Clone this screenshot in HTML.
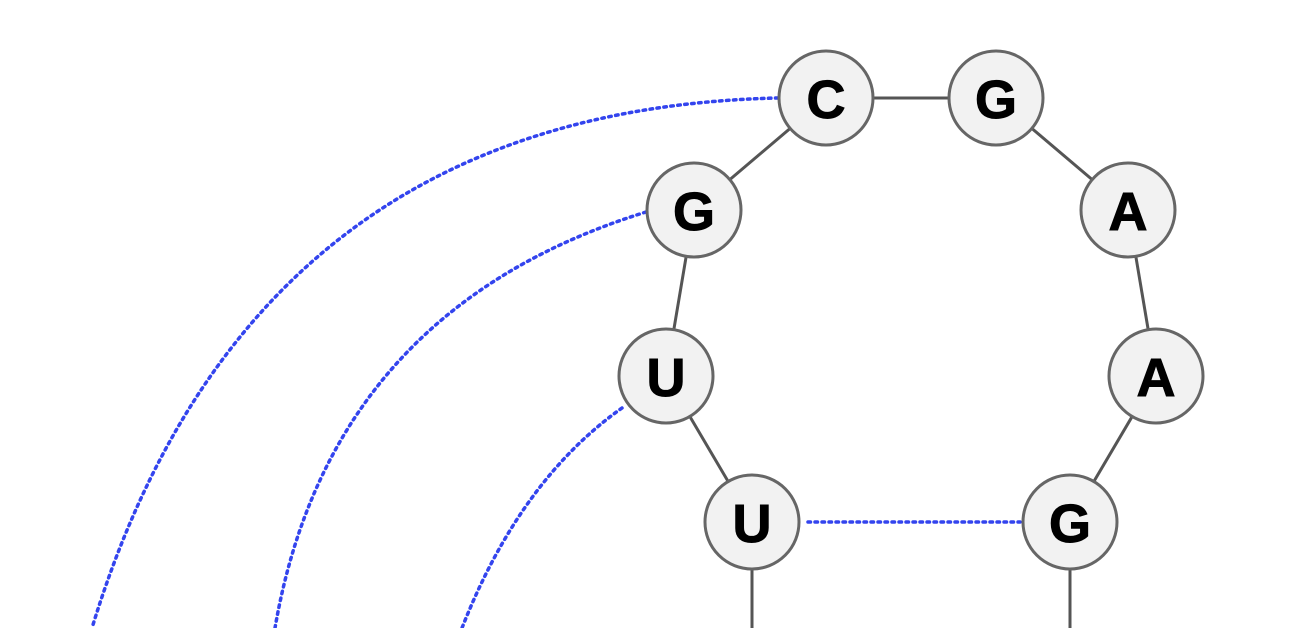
<!DOCTYPE html>
<html><head><meta charset="utf-8"><style>
html,body{margin:0;padding:0;background:#fff;}
svg{display:block;}
text{font-family:"Liberation Sans",sans-serif;font-weight:bold;font-size:54px;fill:#000;text-anchor:middle;dominant-baseline:central;stroke:#000;stroke-width:1;}
</style></head><body>
<svg width="1300" height="628" viewBox="0 0 1300 628" xmlns="http://www.w3.org/2000/svg">
<g stroke="#555" stroke-width="3" fill="none">
<line x1="826" y1="98" x2="996" y2="98"/>
<line x1="826" y1="98" x2="694" y2="210"/>
<line x1="996" y1="98" x2="1128" y2="210"/>
<line x1="694" y1="210" x2="666" y2="376"/>
<line x1="1128" y1="210" x2="1156" y2="376"/>
<line x1="666" y1="376" x2="752" y2="522"/>
<line x1="1156" y1="376" x2="1070" y2="522"/>
<line x1="752" y1="522" x2="752" y2="628"/>
<line x1="1070" y1="522" x2="1070" y2="628"/>
</g>
<g stroke="#3344ee" stroke-width="3.5" fill="none" stroke-dasharray="2.5 4.5" stroke-linecap="round">
<path d="M778,98 Q250,110 92,628"/>
<path d="M646,212 Q330,310 275,628"/>
<path d="M622,408 Q520,480 462,628"/>
<line x1="808" y1="522" x2="1020" y2="522"/>
</g>
<g fill="#f2f2f2" stroke="#666" stroke-width="3">
<circle cx="826" cy="98" r="47"/>
<circle cx="996" cy="98" r="47"/>
<circle cx="694" cy="210" r="47"/>
<circle cx="1128" cy="210" r="47"/>
<circle cx="666" cy="376" r="47"/>
<circle cx="1156" cy="376" r="47"/>
<circle cx="752" cy="522" r="47"/>
<circle cx="1070" cy="522" r="47"/>
</g>
<text x="826" y="100">C</text>
<text x="996" y="100">G</text>
<text x="694" y="212">G</text>
<text x="1128" y="212">A</text>
<text x="666" y="378">U</text>
<text x="1156" y="378">A</text>
<text x="752" y="524">U</text>
<text x="1070" y="524">G</text>
</svg>
</body></html>
